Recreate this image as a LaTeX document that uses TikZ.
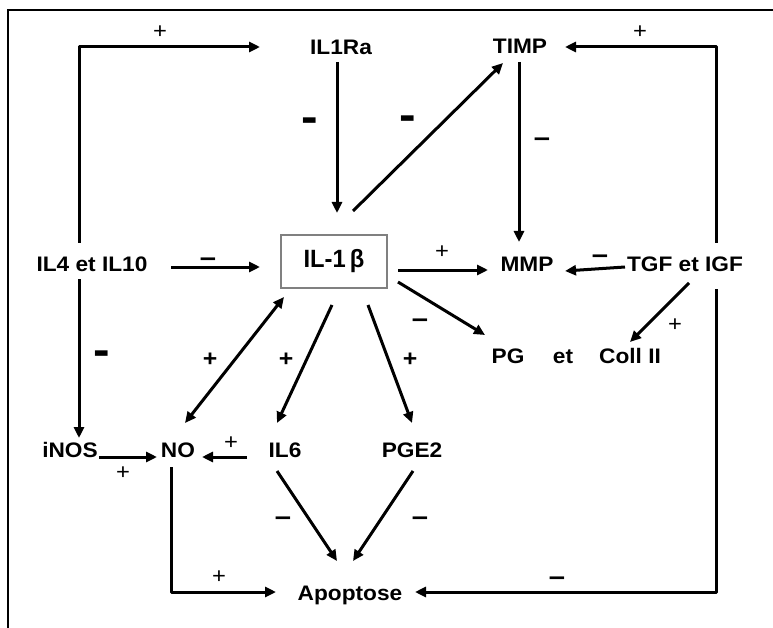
\documentclass[tikz,border=0pt]{standalone}
\usepackage{fontspec}
\setmainfont[FakeStretch=1.08]{Liberation Sans}
\newfontfamily\boxfont[FakeStretch=0.95]{Liberation Sans}
\usetikzlibrary{arrows.meta}
\begin{document}
\begin{tikzpicture}[x=1pt,y=-1pt,
  lbl/.style={inner sep=0pt, anchor=base, font=\fontsize{21}{24}\selectfont\bfseries},
  arr/.style={line width=3pt, -{Triangle[length=11pt,width=10pt]}, line join=round},
  darr/.style={line width=3pt, {Triangle[length=11pt,width=10pt]}-{Triangle[length=11pt,width=10pt]}},
  plus/.style={inner sep=0pt, font=\fontsize{22}{24}\selectfont},
  bplus/.style={inner sep=0pt, font=\fontsize{23}{24}\selectfont\bfseries},
  hyph/.style={inner sep=0pt, font=\fontsize{46}{48}\selectfont\bfseries},
  endash/.style={inner sep=0pt, font=\fontsize{27}{30}\selectfont\bfseries},
]
\useasboundingbox (0,0) rectangle (773,628);
\draw[line width=2pt] (773,10) -- (8,10) -- (8,628);

% nodes
\node[lbl] (il1ra) at (341,55) {IL1Ra};
\node[lbl] (timp) at (520,54) {TIMP};
\node[lbl] (il4) at (92,271) {IL4 et IL10};
\node[draw=gray, line width=1.2pt, minimum width=106pt, minimum height=53pt, inner sep=0pt,
      font=\boxfont\fontsize{25}{28}\selectfont\bfseries] (il1b) at (334,261.5) {IL-1\,β};
\node[lbl] (mmp) at (527,271) {MMP};
\node[lbl] (tgf) at (685,271) {TGF et IGF};
\node[lbl] (pg) at (508,363) {PG};
\node[lbl] (et) at (563,363) {et};
\node[lbl] (coll) at (630,363) {Coll II};
\node[lbl] (inos) at (70,457) {iNOS};
\node[lbl] (no) at (178,457) {NO};
\node[lbl] (il6) at (285,457) {IL6};
\node[lbl] (pge2) at (412,457) {PGE2};
\node[lbl] (apo) at (350,600) {Apoptose};

% connector end points
\coordinate (il4n) at (79,243);
\coordinate (il4s) at (79,279);
\coordinate (il4e) at (171,267);
\coordinate (il1raIn) at (260,47);
\coordinate (il1raS) at (337,62);
\coordinate (il1bN) at (337,213);
\coordinate (il1bNE) at (353,211);
\coordinate (il1bW) at (260,267);
\coordinate (il1bE1) at (398,270);
\coordinate (il1bE2) at (398,282);
\coordinate (il1bSW) at (284,297);
\coordinate (il1bS1) at (332,305);
\coordinate (il1bS2) at (368,305);
\coordinate (timpSW) at (503,63);
\coordinate (timpS) at (519,62);
\coordinate (timpE) at (565,47);
\coordinate (mmpN) at (519,242);
\coordinate (mmpW) at (488,270);
\coordinate (mmpE) at (565,271);
\coordinate (tgfN) at (716,243);
\coordinate (tgfS) at (716,289);
\coordinate (tgfW) at (625,267);
\coordinate (tgfSW) at (689,283);
\coordinate (collN) at (630,342);
\coordinate (pgN) at (485,335);
\coordinate (inosN) at (79,438);
\coordinate (inosE) at (99,457);
\coordinate (noW) at (157,457);
\coordinate (noE) at (202,457);
\coordinate (noN) at (185,423);
\coordinate (noS) at (171,467);
\coordinate (il6W) at (247,457);
\coordinate (il6N) at (277,423);
\coordinate (il6S) at (277,471);
\coordinate (pge2N) at (412,423);
\coordinate (pge2S) at (413,471);
\coordinate (apoW) at (276,592);
\coordinate (apoE) at (415,592);
\coordinate (apoN1) at (337,561);
\coordinate (apoN2) at (353,561);

% connectors
\draw[arr] (il4n) |- (il1raIn);
\draw[arr] (il4s) -- (inosN);
\draw[arr] (il4e) -- (il1bW);
\draw[arr] (il1raS) -- (il1bN);
\draw[arr] (il1bNE) -- (timpSW);
\draw[arr] (timpS) -- (mmpN);
\draw[arr] (tgfN) |- (timpE);
\draw[arr] (tgfS) |- (apoE);
\draw[arr] (tgfW) -- (mmpE);
\draw[arr] (tgfSW) -- (collN);
\draw[arr] (il1bE1) -- (mmpW);
\draw[arr] (il1bE2) -- (pgN);
\draw[darr] (il1bSW) -- (noN);
\draw[arr] (il1bS1) -- (il6N);
\draw[arr] (il1bS2) -- (pge2N);
\draw[arr] (inosE) -- (noW);
\draw[arr] (il6W) -- (noE);
\draw[arr] (noS) |- (apoW);
\draw[arr] (il6S) -- (apoN1);
\draw[arr] (pge2S) -- (apoN2);

% signs
\node[plus] (p1) at (160,32) {+};
\node[plus] (p2) at (640,32) {+};
\node[plus] (p3) at (442,252) {+};
\node[plus] (p4) at (675,325) {+};
\node[plus] (p5) at (123,473) {+};
\node[plus] (p6) at (231,443) {+};
\node[plus] (p7) at (219,577) {+};
\node[bplus] (p8) at (210,360) {+};
\node[bplus] (p9) at (286,360) {+};
\node[bplus] (p10) at (410,360) {+};
\node[hyph] (m1) at (310,125) {-};
\node[hyph] (m2) at (408,123) {-};
\node[hyph] (m3) at (102,358) {-};
\node[endash] (d1) at (208,262) {–};
\node[endash] (d2) at (542,142) {–};
\node[endash] (d3) at (600,259) {–};
\node[endash] (d4) at (420,323) {–};
\node[endash] (d5) at (283,521) {–};
\node[endash] (d6) at (420,521) {–};
\node[endash] (d7) at (557,581) {–};
\end{tikzpicture}
\end{document}
